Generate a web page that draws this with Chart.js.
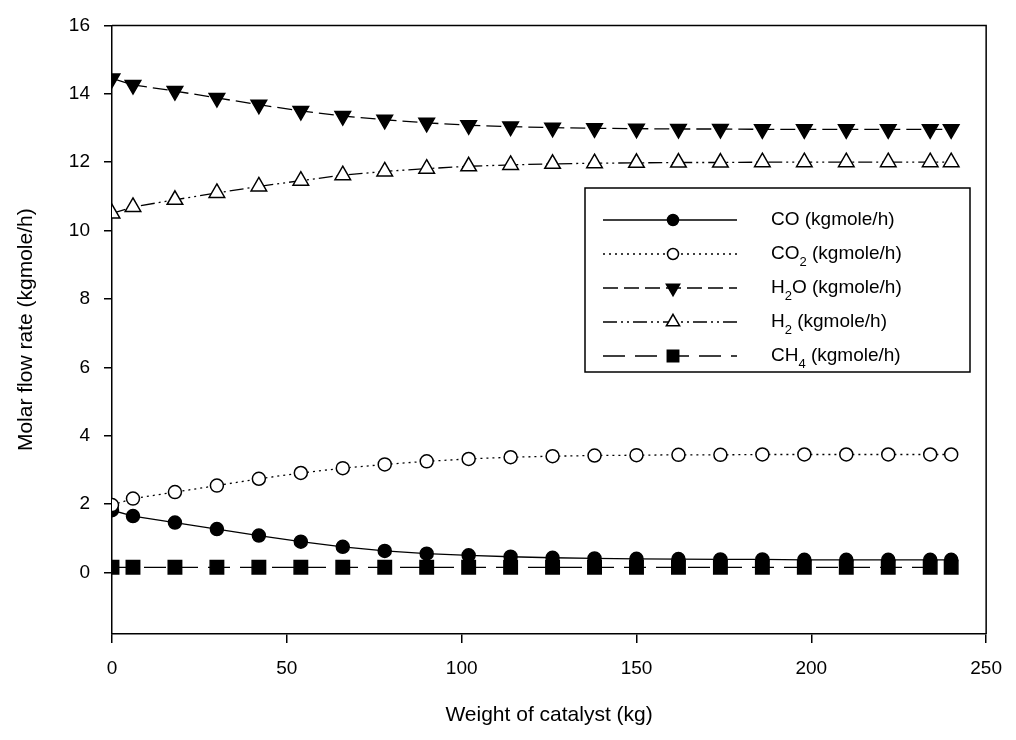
<!DOCTYPE html>
<html>
<head>
<meta charset="utf-8">
<script src="https://cdn.jsdelivr.net/npm/chart.js"></script>
<style>
  html, body { margin: 0; padding: 0; background: #fff; }
  #wrap { width: 1016px; height: 740px; }
</style>
</head>
<body>
<div id="wrap"><canvas id="flowChart" width="1016" height="740"></canvas></div>
<script>
// Weight of catalyst (kg)
const xValues = [0, 6, 18, 30, 42, 54, 66, 78, 90, 102, 114, 126, 138, 150, 162, 174, 186, 198, 210, 222, 234, 240];

// Molar flow rates (kgmole/h)
const coFlow = [1.82, 1.65, 1.46, 1.27, 1.08, 0.90, 0.75, 0.63, 0.55, 0.50, 0.46, 0.43, 0.41, 0.40, 0.39, 0.38, 0.38, 0.37, 0.37, 0.37, 0.37, 0.37];
const co2Flow = [1.97, 2.16, 2.35, 2.54, 2.74, 2.91, 3.05, 3.16, 3.25, 3.32, 3.37, 3.40, 3.42, 3.43, 3.44, 3.44, 3.45, 3.45, 3.45, 3.45, 3.45, 3.45];
const h2oFlow = [14.45, 14.26, 14.08, 13.88, 13.68, 13.50, 13.35, 13.24, 13.15, 13.08, 13.04, 13.01, 12.99, 12.98, 12.97, 12.97, 12.96, 12.96, 12.96, 12.96, 12.96, 12.96];
const h2Flow = [10.50, 10.69, 10.90, 11.10, 11.29, 11.46, 11.62, 11.73, 11.81, 11.88, 11.92, 11.95, 11.97, 11.98, 11.99, 11.99, 12.00, 12.00, 12.00, 12.00, 12.00, 12.00];
const ch4Flow = [0.15, 0.15, 0.15, 0.15, 0.15, 0.15, 0.15, 0.15, 0.15, 0.15, 0.15, 0.15, 0.15, 0.15, 0.15, 0.15, 0.15, 0.15, 0.15, 0.15, 0.15, 0.15];

const yTicks = [0, 2, 4, 6, 8, 10, 12, 14, 16];
const xTicks = [0, 50, 100, 150, 200, 250];

// legend text: [main, subscript, rest]
const legendNames = [
    ["CO", "", " (kgmole/h)"],
    ["CO", "2", " (kgmole/h)"],
    ["H", "2", "O (kgmole/h)"],
    ["H", "2", " (kgmole/h)"],
    ["CH", "4", " (kgmole/h)"],
];

const FONT = "'Liberation Sans', Arial, sans-serif";
const BLACK = "#000";

function pts(ys) {
    return xValues.map((x, i) => ({ x: x, y: ys[i] }));
}

function series(data, style, pointStyle, fill, dash, extra) {
    return Object.assign({
        data: pts(data),
        borderColor: BLACK,
        borderWidth: 1.3,
        borderDash: dash,
        pointStyle: pointStyle,
        pointRadius: 6.5,
        pointBorderWidth: 1.5,
        pointBorderColor: BLACK,
        pointBackgroundColor: fill,
        tension: 0,
        fill: false,
    }, extra || {});
}

const datasets = [
    series(coFlow, "", "circle", BLACK, [], { order: 1 }),
    series(co2Flow, "", "circle", "#fff", [2, 4], { order: 0 }),
    series(h2oFlow, "", "triangle", BLACK, [15, 6], { order: 2, pointRotation: 180, pointRadius: 9 }),
    series(h2Flow, "", "triangle", "#fff", [14, 4, 2, 4, 2, 4], { order: 3, pointRadius: 9 }),
    series(ch4Flow, "", "rect", BLACK, [22, 10], { order: 4, pointRadius: 9.5 }),
];

// box around the plot + legend panel
const framePlugin = {
    id: "frameAndLegend",
    afterDraw(chart) {
        const ctx = chart.ctx;
        const a = chart.chartArea;
        ctx.save();
        ctx.strokeStyle = BLACK;
        ctx.lineWidth = 1.5;
        ctx.beginPath();
        ctx.moveTo(a.left, a.top);
        ctx.lineTo(a.right, a.top);
        ctx.lineTo(a.right, a.bottom);
        ctx.stroke();

        // legend
        const box = { left: 585, top: 188, right: 970, bottom: 372 };
        ctx.lineWidth = 1.5;
        ctx.fillStyle = "#fff";
        ctx.fillRect(box.left, box.top, box.right - box.left, box.bottom - box.top);
        ctx.strokeRect(box.left, box.top, box.right - box.left, box.bottom - box.top);

        const rowH = 34;
        const firstRow = 220;
        const lineX0 = 603, lineX1 = 737, markX = 673, textX = 771;
        chart.data.datasets.forEach((ds, i) => {
            const y = firstRow + i * rowH;
            ctx.save();
            ctx.strokeStyle = BLACK;
            ctx.lineWidth = ds.borderWidth;
            ctx.setLineDash(ds.borderDash || []);
            ctx.beginPath();
            ctx.moveTo(lineX0, y);
            ctx.lineTo(lineX1, y);
            ctx.stroke();
            ctx.setLineDash([]);
            ctx.fillStyle = ds.pointBackgroundColor;
            ctx.strokeStyle = BLACK;
            ctx.lineWidth = ds.pointBorderWidth;
            Chart.helpers.drawPoint(ctx, {
                pointStyle: ds.pointStyle,
                rotation: ds.pointRotation || 0,
                radius: ds.pointStyle === "circle" ? 5.5 : ds.pointRadius * 0.85,
                borderWidth: ds.pointBorderWidth,
            }, markX, y);
            ctx.restore();

            const [main, sub, rest] = legendNames[i];
            ctx.fillStyle = BLACK;
            ctx.textBaseline = "middle";
            ctx.textAlign = "left";
            ctx.font = "19px " + FONT;
            let x = textX;
            ctx.fillText(main, x, y);
            x += ctx.measureText(main).width;
            if (sub) {
                ctx.font = "13px " + FONT;
                ctx.fillText(sub, x, y + 8);
                x += ctx.measureText(sub).width;
                ctx.font = "19px " + FONT;
            }
            ctx.fillText(rest, x, y);
        });
        ctx.restore();
    },
};

new Chart(document.getElementById("flowChart"), {
    type: "line",
    data: { datasets: datasets },
    options: {
        responsive: false,
        animation: false,
        layout: { padding: { top: 18, right: 27, left: 0, bottom: 0 } },
        plugins: {
            legend: { display: false },
            tooltip: { enabled: false },
        },
        scales: {
            x: {
                type: "linear",
                min: 0,
                max: 250,
                afterBuildTicks: (s) => { s.ticks = xTicks.map((v) => ({ value: v })); },
                afterFit: (s) => { s.height = 106; },
                border: { display: true, color: BLACK, width: 1.5 },
                grid: { drawOnChartArea: false, drawTicks: true, tickLength: 9, color: BLACK, lineWidth: 1.5 },
                ticks: { color: BLACK, font: { family: FONT, size: 19 }, padding: 14, maxRotation: 0 },
                title: {
                    display: true,
                    text: "Weight of catalyst (kg)",
                    color: BLACK,
                    font: { family: FONT, size: 21 },
                    padding: { top: 0, bottom: 12 },
                },
            },
            y: {
                type: "linear",
                min: -1.8,
                max: 16,
                afterBuildTicks: (s) => { s.ticks = yTicks.map((v) => ({ value: v })); },
                afterFit: (s) => { s.width = 112; },
                border: { display: true, color: BLACK, width: 1.5 },
                grid: { drawOnChartArea: false, drawTicks: true, tickLength: 8, color: BLACK, lineWidth: 1.5 },
                ticks: { color: BLACK, font: { family: FONT, size: 19 }, padding: 14 },
                title: {
                    display: true,
                    text: "Molar flow rate (kgmole/h)",
                    color: BLACK,
                    font: { family: FONT, size: 21 },
                    padding: { top: 14, bottom: 0 },
                },
            },
        },
    },
    plugins: [framePlugin],
});
</script>
</body>
</html>
